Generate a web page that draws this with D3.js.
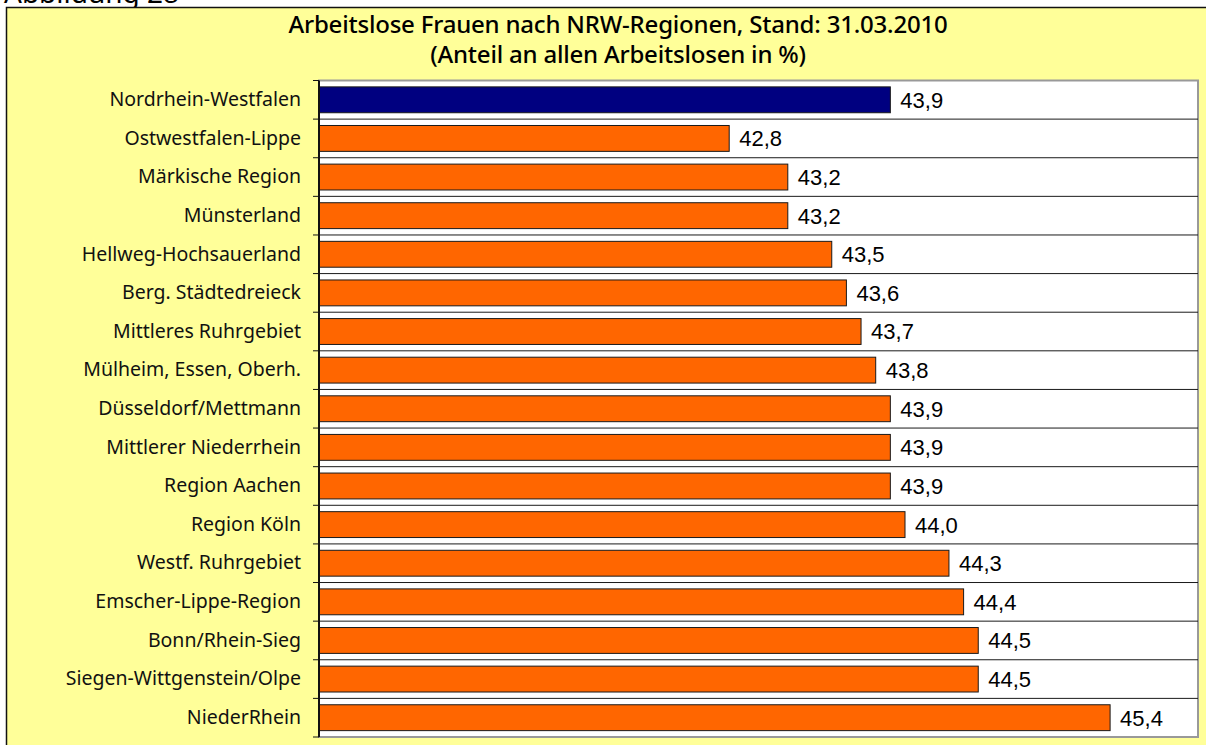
<!DOCTYPE html>
<html>
<head>
<meta charset="utf-8">
<script src="https://cdn.jsdelivr.net/npm/d3@7"></script>
<style>
  body { margin: 0; background: #fff; }
  svg { display: block; }
</style>
</head>
<body>
<div id="chart"></div>
<script>
// data
const regions = [
  "Nordrhein-Westfalen", "Ostwestfalen-Lippe", "Märkische Region", "Münsterland",
  "Hellweg-Hochsauerland", "Berg. Städtedreieck", "Mittleres Ruhrgebiet",
  "Mülheim, Essen, Oberh.", "Düsseldorf/Mettmann", "Mittlerer Niederrhein",
  "Region Aachen", "Region Köln", "Westf. Ruhrgebiet", "Emscher-Lippe-Region",
  "Bonn/Rhein-Sieg", "Siegen-Wittgenstein/Olpe", "NiederRhein"
];
const shares = [43.9, 42.8, 43.2, 43.2, 43.5, 43.6, 43.7, 43.8, 43.9, 43.9, 43.9, 44.0, 44.3, 44.4, 44.5, 44.5, 45.4];
const titleLines = ["Arbeitslose Frauen nach NRW-Regionen, Stand: 31.03.2010", "(Anteil an allen Arbeitslosen in %)"];
const xDomain = [40, 46];

const width = 1206, height = 745;
const plot = { left: 319, right: 1198, top: 80.5, bottom: 737 };

const svg = d3.select("#chart").append("svg")
  .attr("width", width)
  .attr("height", height);

// caption above the panel (cut off at the top, as in the source)
svg.append("text")
  .attr("x", 4).attr("y", 3)
  .attr("font-family", "Noto Sans, sans-serif")
  .attr("font-size", 28)
  .attr("fill", "#000")
  .text("Abbildung 28");

// yellow panel
svg.append("rect")
  .attr("x", 6.5).attr("y", 7.5)
  .attr("width", width + 10).attr("height", height + 10)
  .attr("fill", "#ffff99")
  .attr("stroke", "#111")
  .attr("stroke-width", 1.5);

// title
svg.append("g").selectAll("text")
  .data(titleLines)
  .join("text")
  .attr("x", 618)
  .attr("y", (d, i) => 33 + i * 30)
  .attr("text-anchor", "middle")
  .attr("font-family", "Noto Sans, sans-serif")
  .attr("font-weight", 500)
  .attr("font-size", 24)
  .attr("letter-spacing", -0.2)
  .attr("fill", "#000")
  .text(d => d);

// scales
const x = d3.scaleLinear().domain(xDomain).range([plot.left, plot.right]);
const y = d3.scaleBand().domain(regions).range([plot.top, plot.bottom])
  .paddingInner(0.33).paddingOuter(0.165);

// plot area
svg.append("rect")
  .attr("x", plot.left).attr("y", plot.top)
  .attr("width", plot.right - plot.left).attr("height", plot.bottom - plot.top)
  .attr("fill", "#fff")
  .attr("stroke", "#999")
  .attr("stroke-width", 2);

// gridlines at the band boundaries
const bounds = d3.range(regions.length + 1).map(i => plot.top + i * y.step());
svg.append("g").selectAll("line")
  .data(bounds.slice(1, -1))
  .join("line")
  .attr("x1", plot.left).attr("x2", plot.right)
  .attr("y1", d => d).attr("y2", d => d)
  .attr("stroke", "#1a1a1a")
  .attr("stroke-width", 1);

// bars
svg.append("g").selectAll("rect")
  .data(shares)
  .join("rect")
  .attr("x", x(xDomain[0]))
  .attr("y", (d, i) => y(regions[i]))
  .attr("width", d => x(d) - x(xDomain[0]))
  .attr("height", y.bandwidth())
  .attr("fill", (d, i) => i === 0 ? "#000080" : "#ff6600")
  .attr("stroke", "#1a1a1a")
  .attr("stroke-width", 1);

// value labels
svg.append("g").selectAll("text")
  .data(shares)
  .join("text")
  .attr("x", d => x(d) + 10)
  .attr("y", (d, i) => y(regions[i]) + y.bandwidth() / 2)
  .attr("dy", "0.36em")
  .attr("font-family", "Liberation Sans, Arial, sans-serif")
  .attr("font-size", 22)
  .attr("fill", "#000")
  .text(d => d3.format(".1f")(d).replace(".", ","));

// left axis: category labels
const yAxis = d3.axisLeft(y).tickSize(0).tickPadding(18);
const gy = svg.append("g")
  .attr("transform", `translate(${plot.left},0)`)
  .call(yAxis);
gy.select(".domain").remove();
gy.selectAll("text")
  .attr("font-family", "Noto Sans, sans-serif")
  .attr("font-size", 19.5)
  .attr("fill", "#111");

// axis line and boundary ticks
svg.append("line")
  .attr("x1", plot.left).attr("x2", plot.left)
  .attr("y1", plot.top).attr("y2", plot.bottom)
  .attr("stroke", "#111").attr("stroke-width", 2);
svg.append("g").selectAll("line")
  .data(bounds)
  .join("line")
  .attr("x1", plot.left - 6).attr("x2", plot.left)
  .attr("y1", d => d).attr("y2", d => d)
  .attr("stroke", "#111").attr("stroke-width", 1);
</script>
</body>
</html>
